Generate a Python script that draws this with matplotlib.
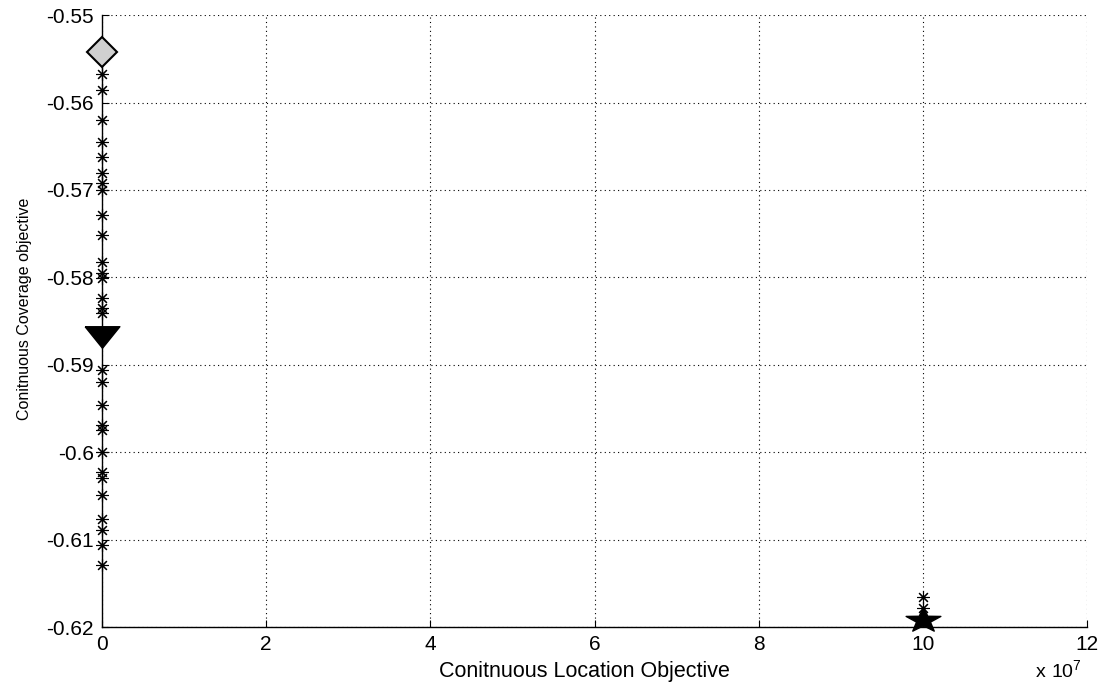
import numpy as np
import matplotlib
matplotlib.use("Agg")
import matplotlib.pyplot as plt
from matplotlib.ticker import FuncFormatter

plt.rcParams["font.family"] = ["Liberation Sans", "DejaVu Sans"]
plt.rcParams["axes.unicode_minus"] = False

# pareto points along the zero-location column
col_x = [0.0] * 29
col_y = [-0.5567, -0.5586, -0.5620, -0.5645, -0.5662, -0.5681, -0.5692, -0.5700,
         -0.5729, -0.5752, -0.5782, -0.5795, -0.5801, -0.5824, -0.5835, -0.5841,
         -0.5906, -0.5920, -0.5946, -0.5969, -0.5975, -0.6000, -0.6023, -0.6030,
         -0.6049, -0.6076, -0.6089, -0.6106, -0.6129]
# points near the far-location end
far_x = [10e7, 10e7]
far_y = [-0.6166, -0.6178]

# highlighted solutions
best_cov = (0.0, -0.5542)     # diamond
compromise = (0.0, -0.5868)   # triangle
best_loc = (10e7, -0.6192)    # star

x_ticks = [0, 2e7, 4e7, 6e7, 8e7, 10e7, 12e7]
y_ticks = [-0.62, -0.61, -0.60, -0.59, -0.58, -0.57, -0.56, -0.55]

fig = plt.figure(figsize=(11.08, 6.86), dpi=100)
ax = fig.add_axes([0.0921, 0.086, 0.889, 0.892])

ax.plot(col_x, col_y, ls="none", marker=(8, 2, 0), ms=9, mew=0.8, color="k", clip_on=False, zorder=3)
ax.plot(far_x, far_y, ls="none", marker=(8, 2, 0), ms=9, mew=0.8, color="k", clip_on=False, zorder=3)

ax.plot(*best_cov, marker="D", ms=15, mfc="#d0d0d0", mec="k", mew=1.5, clip_on=False, zorder=4)

tri = [(-1, 0.62), (1, 0.62), (0, -0.62), (-1, 0.62)]
ax.plot(*compromise, marker=tri, ms=25, mfc="k", mec="k", clip_on=False, zorder=4)

# squat pentagram
ang = np.pi / 2 + np.arange(10) * np.pi / 5
rad = np.where(np.arange(10) % 2 == 0, 1.0, 0.4)
star = list(zip(rad * np.cos(ang), 0.72 * rad * np.sin(ang)))
star.append(star[0])
ax.plot(*best_loc, marker=star, ms=25, mfc="k", mec="k", clip_on=False, zorder=4)

ax.set_xlim(0, 12e7)
ax.set_ylim(-0.62, -0.55)
ax.set_xticks(x_ticks)
ax.set_yticks(y_ticks)
ax.xaxis.set_major_formatter(FuncFormatter(lambda v, p: "%g" % round(v / 1e7, 6)))
ax.yaxis.set_major_formatter(FuncFormatter(lambda v, p: "%g" % round(v, 4)))
ax.tick_params(direction="in", length=5, width=0.8, labelsize=15, colors="k")
ax.tick_params(axis="x", pad=6)
ax.tick_params(axis="y", pad=6)

ax.grid(True, color="k", ls=(0, (1, 3)), lw=0.8)
for s in ("top", "right"):
    ax.spines[s].set_visible(False)
for s in ("left", "bottom"):
    ax.spines[s].set_linewidth(1.0)

ax.set_xlabel("Conitnuous Location Objective", fontsize=15.5)
ax.xaxis.set_label_coords(0.49, -0.056)
ax.set_ylabel("Conitnuous Coverage objective", fontsize=11.5)
ax.yaxis.set_label_coords(-0.071, 0.52)

fig.text(1058 / 1108, 1 - 670 / 686, r"$\mathregular{x\ 10^7}$", fontsize=14,
         ha="center", va="center")

fig.savefig("out.png", dpi=100)
